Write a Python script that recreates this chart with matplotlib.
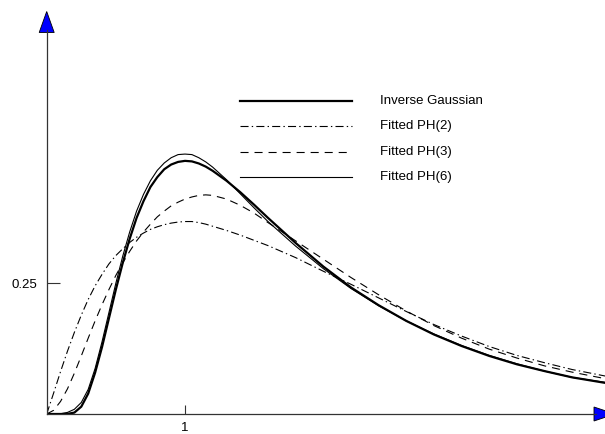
import numpy as np
import matplotlib
matplotlib.use("Agg")
import matplotlib.pyplot as plt
from matplotlib.patches import Polygon
from matplotlib.lines import Line2D

plt.rcParams['font.family'] = ['Liberation Sans', 'DejaVu Sans']
plt.rcParams['lines.scale_dashes'] = False

# values
x = [0, 0.05, 0.1, 0.15, 0.2, 0.25, 0.3, 0.35, 0.4, 0.45, 0.5, 0.55, 0.6, 0.65,
     0.7, 0.75, 0.8, 0.85, 0.9, 0.95, 1.0, 1.05, 1.1, 1.15, 1.2, 1.3, 1.4, 1.5,
     1.6, 1.8, 2.0, 2.2, 2.4, 2.6, 2.8, 3.0, 3.2, 3.4, 3.6, 3.8, 4.05]
inv_gauss = [0, 0, 0, 0.0002, 0.0027, 0.014, 0.039, 0.079, 0.128, 0.183, 0.238,
             0.289, 0.335, 0.375, 0.407, 0.434, 0.453, 0.468, 0.477, 0.482, 0.484,
             0.483, 0.479, 0.473, 0.465, 0.446, 0.424, 0.400, 0.375, 0.327, 0.282,
             0.242, 0.208, 0.178, 0.152, 0.130, 0.111, 0.095, 0.082, 0.070, 0.059]
ph2 = [0, 0.040, 0.081, 0.120, 0.156, 0.189, 0.219, 0.245, 0.267, 0.287, 0.303,
       0.316, 0.328, 0.338, 0.346, 0.353, 0.358, 0.362, 0.365, 0.367, 0.368, 0.368,
       0.366, 0.363, 0.359, 0.351, 0.342, 0.332, 0.322, 0.299, 0.273, 0.248, 0.222,
       0.196, 0.171, 0.149, 0.129, 0.112, 0.098, 0.085, 0.072]
ph3 = [0, 0.007, 0.024, 0.048, 0.078, 0.111, 0.145, 0.178, 0.209, 0.238, 0.265,
       0.289, 0.311, 0.331, 0.348, 0.363, 0.377, 0.388, 0.398, 0.405, 0.411, 0.415,
       0.418, 0.419, 0.418, 0.411, 0.399, 0.384, 0.366, 0.331, 0.296, 0.261, 0.228,
       0.197, 0.169, 0.145, 0.124, 0.107, 0.092, 0.080, 0.067]
ph6 = [0, 0, 0.0005, 0.003, 0.009, 0.022, 0.047, 0.087, 0.138, 0.194, 0.250,
       0.302, 0.348, 0.388, 0.420, 0.446, 0.466, 0.480, 0.490, 0.496, 0.497, 0.496,
       0.490, 0.482, 0.472, 0.448, 0.421, 0.394, 0.368, 0.321, 0.278, 0.240, 0.207,
       0.178, 0.153, 0.131, 0.112, 0.096, 0.082, 0.070, 0.060]

labels = ['Inverse Gaussian', 'Fitted PH(2)', 'Fitted PH(3)', 'Fitted PH(6)']

W, H = 605, 434
fig = plt.figure(figsize=(W / 100, H / 100), dpi=100)

def fx(px):
    return px / W

def fy(py):
    return 1 - py / H

x0, y0 = 46.7, 414.0   # origin in pixels
sx, sy = 138.3, 523.0  # pixels per unit
ax = fig.add_axes([fx(x0), fy(y0), (W - x0) / W, (y0 - 10) / H])
ax.set_xlim(0, (W - x0) / sx)
ax.set_ylim(0, (y0 - 10) / sy)
for s in ax.spines.values():
    s.set_visible(False)

styles = [
    dict(color='black', lw=1.6, ls='-'),
    dict(color='black', lw=0.8, ls=(0, (5.8, 2.3, 1.0, 2.3))),
    dict(color='black', lw=0.8, ls=(0, (5.8, 4.3))),
    dict(color='black', lw=0.8, ls='-'),
]
series = [inv_gauss, ph2, ph3, ph6]
for ys, st in zip(series, styles):
    ax.plot(x, ys, **st)

# axes with arrows
axc = '#333333'
fig.add_artist(Line2D([fx(x0), fx(x0)], [fy(y0), fy(30)], color=axc, lw=0.9))
fig.add_artist(Line2D([fx(x0), fx(596)], [fy(y0), fy(y0)], color=axc, lw=0.9))
fig.add_artist(Polygon([(fx(x0), fy(11.5)), (fx(x0 - 7.5), fy(32.5)), (fx(x0 + 7.5), fy(32.5))],
                       closed=True, facecolor='#0000ff', edgecolor='black', lw=0.6))
fig.add_artist(Polygon([(fx(615), fy(y0)), (fx(594), fy(y0 - 7)), (fx(594), fy(y0 + 7))],
                       closed=True, facecolor='#0000ff', edgecolor='black', lw=0.6))

ax.set_xticks([1])
ax.set_xticklabels(['1'])
ax.set_yticks([0.25])
ax.set_yticklabels(['0.25'])
ax.tick_params(axis='x', direction='in', length=6.5, width=0.8, color=axc, pad=6, labelsize=9.5)
ax.tick_params(axis='y', direction='in', length=9.5, width=0.8, color=axc, pad=7, labelsize=9.5)

# legend drawn by hand
leg_y = [101, 126, 151.5, 177]
for ly, lab, st in zip(leg_y, labels, styles):
    fig.add_artist(Line2D([fx(240), fx(352)], [fy(ly), fy(ly)], **st))
    fig.text(fx(380), fy(ly), lab, fontsize=9.5, va='center', ha='left')

fig.savefig('out.png', dpi=100)
